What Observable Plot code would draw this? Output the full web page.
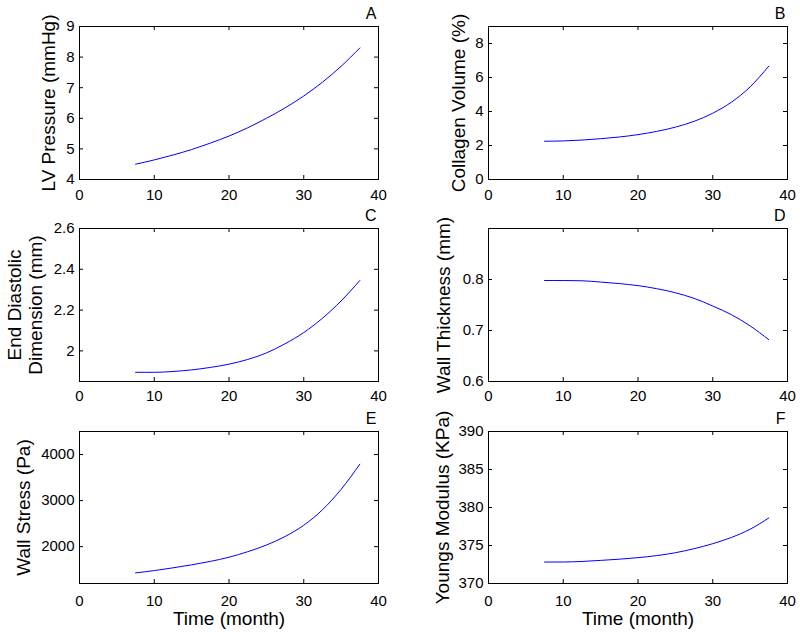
<!DOCTYPE html>
<html><head><meta charset="utf-8">
<script src="https://cdn.jsdelivr.net/npm/d3@7"></script>
<script src="https://cdn.jsdelivr.net/npm/@observablehq/plot@0.6"></script>
<style>
body{margin:0;background:#fff;}
#chart{position:relative;width:800px;height:636px;overflow:hidden;background:#fff;}
#chart svg{position:absolute;}
</style></head><body><div id="chart"></div>
<script>
// Time (month)
const time = [7.5, 10, 12.5, 15, 17.5, 20, 22.5, 25, 27.5, 30, 32.5, 35, 37.5];
// Series values
const lvPressure = [4.5, 4.64, 4.8, 4.98, 5.19, 5.42, 5.69, 6.0, 6.34, 6.73, 7.18, 7.7, 8.3];
const collagenVolume = [2.25, 2.27, 2.32, 2.4, 2.5, 2.64, 2.83, 3.08, 3.42, 3.9, 4.55, 5.45, 6.67];
const endDiastolic = [1.895, 1.895, 1.899, 1.907, 1.919, 1.935, 1.958, 1.99, 2.035, 2.09, 2.16, 2.245, 2.345];
const wallThickness = [0.798, 0.798, 0.7975, 0.795, 0.792, 0.788, 0.782, 0.774, 0.763, 0.748, 0.731, 0.709, 0.682];
const wallStress = [1430, 1480, 1540, 1605, 1680, 1770, 1890, 2035, 2220, 2465, 2800, 3245, 3790];
const youngsModulus = [372.82, 372.83, 372.9, 373.04, 373.2, 373.4, 373.67, 374.05, 374.58, 375.24, 376.06, 377.14, 378.63];
// Tick labels
const xTicks = [0, 10, 20, 30, 40];
const ticksA = [4, 5, 6, 7, 8, 9];
const ticksB = [0, 2, 4, 6, 8];
const ticksC = [2, 2.2, 2.4, 2.6];
const ticksD = [0.6, 0.7, 0.8];
const ticksE = [2000, 3000, 4000];
const ticksF = [370, 375, 380, 385, 390];
// Axis domains
const domainX = [0, 40];
const domainA = [4, 9], domainB = [0, 9], domainC = [1.85, 2.6], domainD = [0.6, 0.9], domainE = [1200, 4500], domainF = [370, 390];
// Labels
const letters = ["A", "B", "C", "D", "E", "F"];
const yLabels = ["LV Pressure (mmHg)", "Collagen Volume (%)", "End Diastolic\nDimension (mm)", "Wall Thickness (mm)", "Wall Stress (Pa)", "Youngs Modulus (KPa)"];
const xLabel = "Time (month)";

const seriesList = [lvPressure, collagenVolume, endDiastolic, wallThickness, wallStress, youngsModulus];
const tickList = [ticksA, ticksB, ticksC, ticksD, ticksE, ticksF];
const domainList = [domainA, domainB, domainC, domainD, domainE, domainF];
const labelDx = [-31, -30, -54.5, -45, -56, -46];

const rows = [{top:0,height:200,mt:26,mb:21,pad:10},{top:200,height:210,mt:28,mb:29,pad:9},{top:410,height:226,mt:21,mb:53,pad:12}];
const cols = [{left:0,ml:79,mr:22},{left:400,ml:88,mr:13}];
const chart = document.getElementById("chart");
const font = "'Liberation Sans', Arial, Helvetica, sans-serif";

seriesList.forEach((vals, i) => {
  const r = rows[Math.floor(i/2)], c = cols[i%2];
  const innerH = r.height - r.mt - r.mb, innerW = 400 - c.ml - c.mr;
  const data = time.map((t, j) => ({t, v: vals[j]}));
  const marks = [
    Plot.line(data, {x: "t", y: "v", stroke: "#0000ff", strokeWidth: 1, curve: "monotone-x"}),
    Plot.tickX(xTicks, {x: d => d, insetTop: innerH - 4, stroke: "#000"}),
    Plot.tickX(xTicks, {x: d => d, insetBottom: innerH - 4, stroke: "#000"}),
    Plot.tickY(tickList[i], {y: d => d, insetRight: innerW - 4, stroke: "#000"}),
    Plot.tickY(tickList[i], {y: d => d, insetLeft: innerW - 4, stroke: "#000"}),
    Plot.axisX({ticks: xTicks, tickSize: 0, tickPadding: r.pad, tickFormat: d => String(d), label: null, fill: "#000"}),
    Plot.axisY({ticks: tickList[i], tickSize: 0, tickPadding: 5, tickFormat: d => String(d), label: null, fill: "#000"}),
    Plot.frame({stroke: "#000"}),
    Plot.text([letters[i]], {text: d => d, frameAnchor: "top-right", dy: -13, dx: -2, textAnchor: "end", lineAnchor: "middle", fontSize: 16, fill: "#000"}),
    Plot.text([yLabels[i]], {text: d => d, frameAnchor: "left", rotate: -90, dx: labelDx[i], textAnchor: "middle", lineAnchor: "middle", fontSize: 19, lineHeight: 1.1, fill: "#000"})
  ];
  if (Math.floor(i/2) === 2) {
    marks.push(Plot.text([xLabel], {text: d => d, frameAnchor: "bottom", dy: 35, lineAnchor: "middle", textAnchor: "middle", fontSize: 19, fill: "#000"}));
  }
  const svg = Plot.plot({
    width: 400, height: r.height,
    marginTop: r.mt, marginBottom: r.mb, marginLeft: c.ml, marginRight: c.mr,
    x: {domain: domainX},
    y: {domain: domainList[i]},
    style: {fontFamily: font, fontSize: "15px", color: "#000", background: "transparent", overflow: "visible"},
    marks
  });
  svg.style.position = "absolute";
  svg.style.left = c.left + "px";
  svg.style.top = r.top + "px";
  chart.appendChild(svg);
});
</script></body></html>
